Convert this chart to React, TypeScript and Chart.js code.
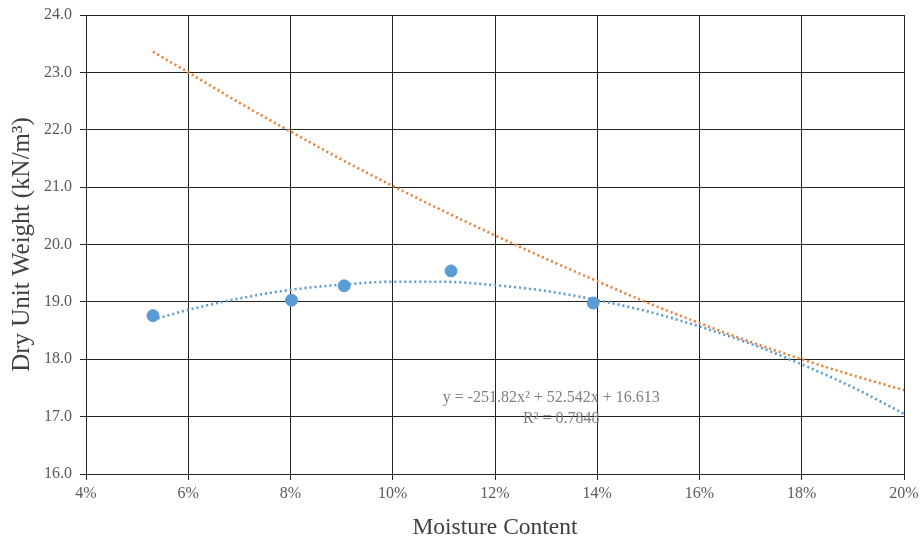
import React, { useEffect, useRef } from "react";
import { Chart, registerables } from "chart.js";

Chart.register(...registerables);

// Measured dry unit weight vs moisture content (%)
const moistureMeasured = [5.31, 8.02, 9.05, 11.14, 13.92];
const dryUnitWeight = [18.76, 19.03, 19.28, 19.54, 18.98];

// Polynomial trendline: y = -251.82x² + 52.542x + 16.613 (x as a fraction)
const trendMoisture = [5.31, 6, 7, 8, 9, 10, 11, 12, 13, 14, 15, 16, 17, 18, 19, 20];
const trendWeight = [18.69, 18.86, 19.06, 19.21, 19.3, 19.35, 19.35, 19.29, 19.19, 19.03, 18.83, 18.57, 18.27, 17.91, 17.51, 17.05];

// Zero air voids curve
const zavMoisture = [5.31, 6, 7, 8, 9, 10, 11, 12, 13, 14, 15, 16, 17, 18, 19, 20];
const zavWeight = [23.36, 23.0, 22.47, 21.97, 21.48, 21.02, 20.58, 20.16, 19.75, 19.36, 18.98, 18.63, 18.3, 18.0, 17.72, 17.46];

const xTitle = "Moisture Content";
const yTitle = "Dry Unit Weight (kN/m³)";
const equationLine = "y = -251.82x² + 52.542x + 16.613";
const rSquaredLine = "R² = 0.7848";

const FONT = "'Liberation Serif', 'Times New Roman', serif";

const labelsPlugin = {
  id: "axisTitlesAndEquation",
  afterDraw(chart: any) {
    const { ctx, chartArea, scales } = chart;
    ctx.save();
    ctx.fillStyle = "#404040";
    ctx.textAlign = "center";
    ctx.textBaseline = "middle";
    ctx.font = `23.5px ${FONT}`;
    ctx.fillText(xTitle, (chartArea.left + chartArea.right) / 2, 528);
    ctx.font = `25px ${FONT}`;
    ctx.translate(22, (chartArea.top + chartArea.bottom) / 2);
    ctx.rotate(-Math.PI / 2);
    ctx.fillText(yTitle, 0, 0);
    ctx.restore();

    ctx.save();
    ctx.fillStyle = "#7f7f7f";
    ctx.font = `16px ${FONT}`;
    ctx.textAlign = "center";
    ctx.textBaseline = "middle";
    const x = scales.x.getPixelForValue(13.1);
    ctx.fillText(equationLine, x, scales.y.getPixelForValue(17.32));
    ctx.fillText(rSquaredLine, x + 10, scales.y.getPixelForValue(16.97));
    ctx.restore();
  },
};

export default function App() {
  const canvasRef = useRef<HTMLCanvasElement | null>(null);

  useEffect(() => {
    document.body.style.margin = "0";
    const canvas = canvasRef.current;
    if (!canvas) return;
    const toPoints = (xs: number[], ys: number[]) => xs.map((x, i) => ({ x, y: ys[i] }));

    const chart = new Chart(canvas, {
      type: "scatter",
      data: {
        datasets: [
          {
            label: "Measured",
            data: toPoints(moistureMeasured, dryUnitWeight),
            backgroundColor: "#5B9BD5",
            borderColor: "#5B9BD5",
            pointRadius: 6,
            showLine: false,
            order: 0,
          },
          {
            label: "Trendline",
            data: toPoints(trendMoisture, trendWeight),
            borderColor: "#5B9BD5",
            borderWidth: 2.6,
            borderDash: [2, 3],
            pointRadius: 0,
            showLine: true,
            cubicInterpolationMode: "monotone",
            order: 1,
          },
          {
            label: "Zero air voids",
            data: toPoints(zavMoisture, zavWeight),
            borderColor: "#ED7D31",
            borderWidth: 2.6,
            borderDash: [2, 3],
            pointRadius: 0,
            showLine: true,
            cubicInterpolationMode: "monotone",
            order: 2,
          },
        ],
      },
      options: {
        animation: false,
        responsive: false,
        maintainAspectRatio: false,
        layout: { padding: { top: 15, right: 16, left: 0, bottom: 0 } },
        plugins: {
          legend: { display: false },
          tooltip: { enabled: false },
        },
        scales: {
          x: {
            type: "linear",
            min: 4,
            max: 20,
            border: { color: "#222", width: 1 },
            grid: { color: "#222", lineWidth: 1, tickLength: 6, drawTicks: true },
            ticks: {
              stepSize: 2,
              color: "#595959",
              font: { family: FONT, size: 16 },
              padding: 4,
              maxRotation: 0,
              callback: (v: any) => `${v}%`,
            },
            afterFit: (s: any) => {
              s.height = 66;
              s.paddingLeft = 0;
              s.paddingRight = 0;
            },
          },
          y: {
            type: "linear",
            min: 16,
            max: 24,
            border: { color: "#222", width: 1 },
            grid: { color: "#222", lineWidth: 1, tickLength: 6, drawTicks: true },
            ticks: {
              stepSize: 1,
              color: "#595959",
              font: { family: FONT, size: 16 },
              padding: 8,
              callback: (v: any) => Number(v).toFixed(1),
            },
            afterFit: (s: any) => {
              s.width = 86;
              s.paddingTop = 0;
              s.paddingBottom = 0;
            },
          },
        },
      },
      plugins: [labelsPlugin],
    });

    return () => chart.destroy();
  }, []);

  return (
    <div style={{ width: 920, height: 540, background: "#fff" }}>
      <canvas ref={canvasRef} width={920} height={540} style={{ display: "block" }} />
    </div>
  );
}
